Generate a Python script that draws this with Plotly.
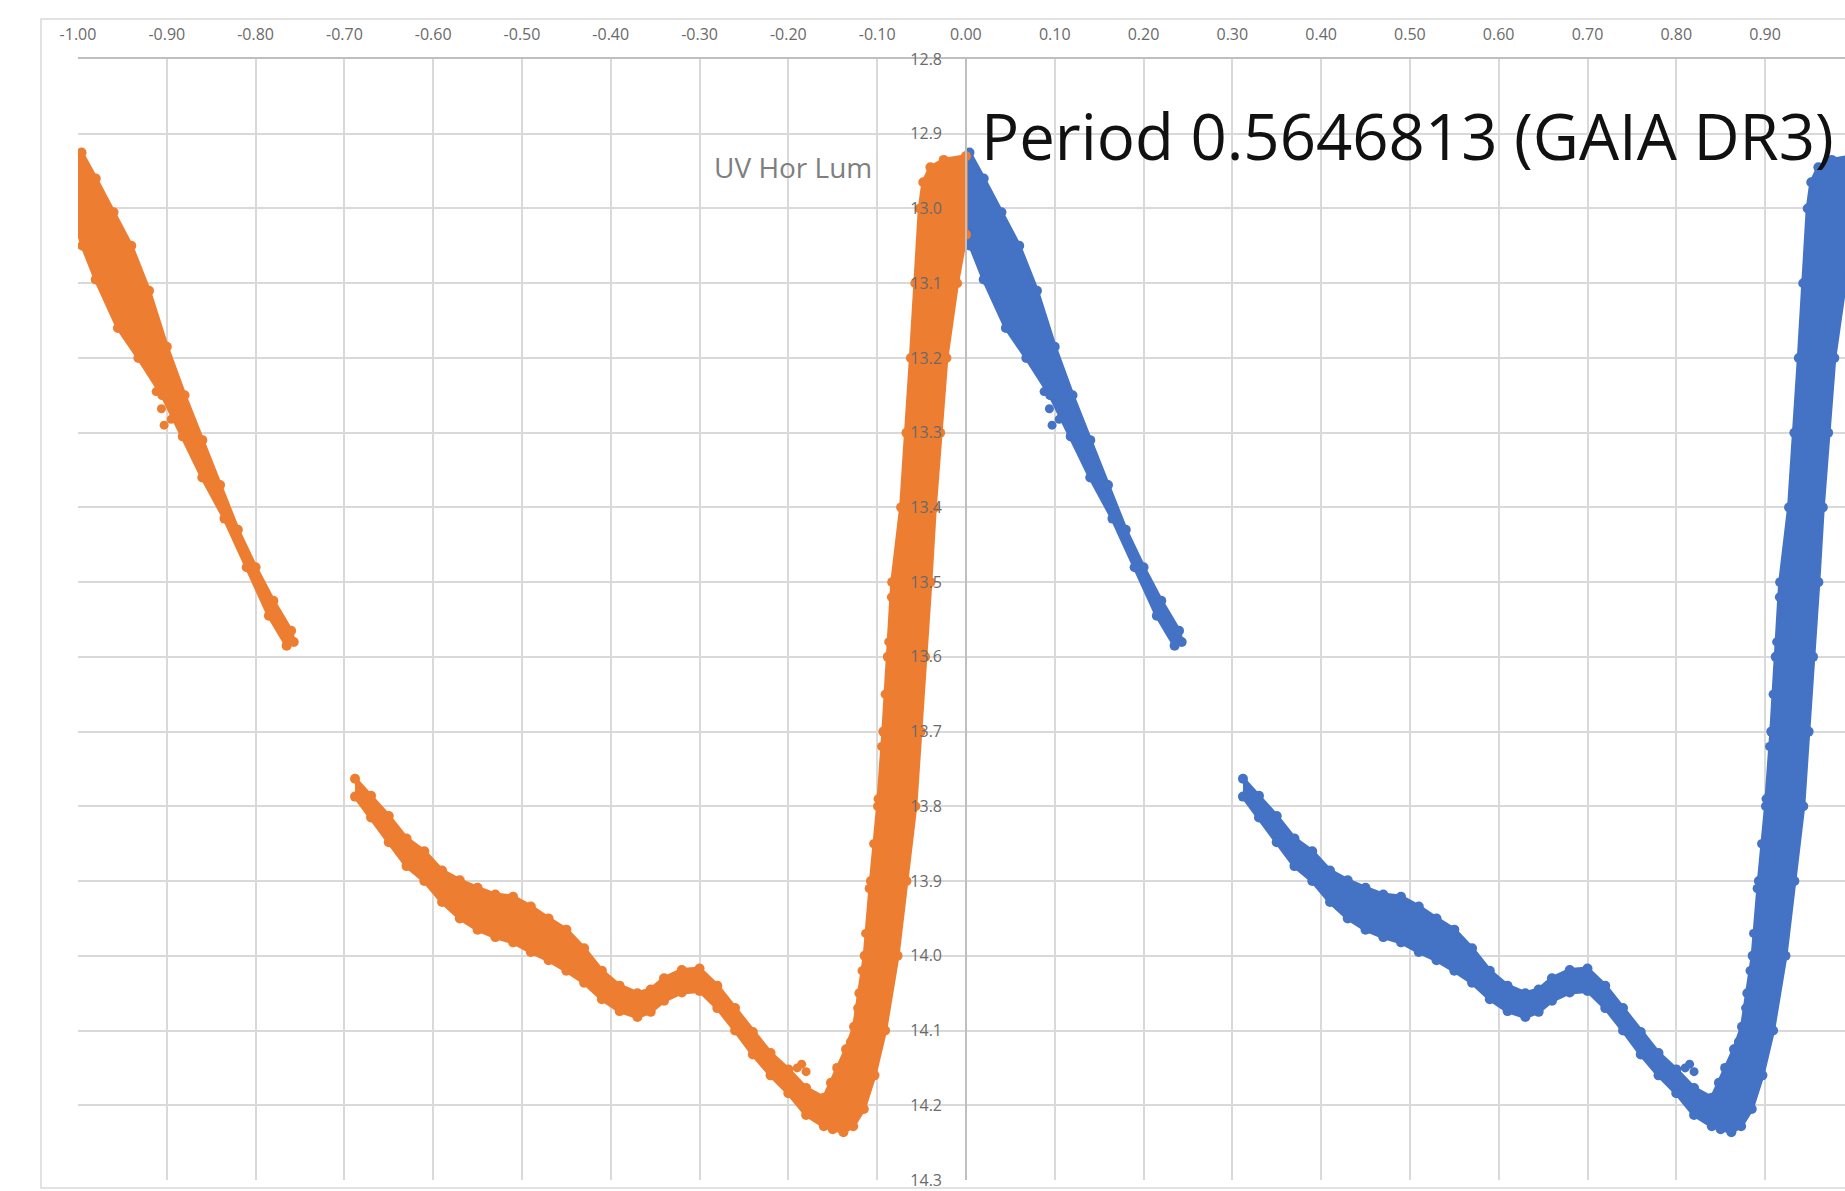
import plotly.graph_objects as go

# ---- data: phase-folded light curve of UV Hor (phase 0..1), band outlines ----
band1_phase = [0.000, 0.004, 0.020, 0.040, 0.060, 0.080, 0.100, 0.120, 0.140, 0.160, 0.180, 0.200,
               0.220, 0.240, 0.243, 0.235, 0.215, 0.190, 0.165, 0.140, 0.118, 0.095, 0.068, 0.045,
               0.020, 0.005, 0.000]
band1_mag = [12.935, 12.925, 12.960, 13.005, 13.050, 13.110, 13.185, 13.250, 13.310, 13.370, 13.430,
             13.480, 13.525, 13.565, 13.580, 13.585, 13.545, 13.480, 13.415, 13.360, 13.305, 13.250,
             13.200, 13.160, 13.095, 13.050, 13.030]

band2_phase = [0.312, 0.330, 0.350, 0.370, 0.390, 0.410, 0.430, 0.450, 0.470, 0.490, 0.510, 0.530,
               0.550, 0.570, 0.590, 0.610, 0.630, 0.645, 0.660, 0.680, 0.700, 0.720, 0.740, 0.760,
               0.780, 0.800, 0.820, 0.840, 0.848,
               0.855, 0.865, 0.874, 0.880, 0.886, 0.893, 0.901, 0.907, 0.912, 0.917, 0.927, 0.933,
               0.938, 0.943, 0.948, 0.952, 0.960, 0.975, 1.000,
               1.000, 0.990, 0.978, 0.971, 0.965, 0.960, 0.954, 0.949, 0.943, 0.933, 0.923, 0.909,
               0.897, 0.885, 0.873, 0.862,
               0.850, 0.840, 0.820, 0.800, 0.780, 0.760, 0.740, 0.720, 0.700, 0.680, 0.660, 0.645,
               0.630, 0.610, 0.590, 0.570, 0.550, 0.530, 0.510, 0.490, 0.470, 0.450, 0.430, 0.410,
               0.390, 0.370, 0.350, 0.330, 0.312]
band2_mag = [13.763, 13.786, 13.813, 13.843, 13.860, 13.886, 13.899, 13.909, 13.918, 13.921, 13.934,
             13.950, 13.965, 13.990, 14.020, 14.040, 14.050, 14.045, 14.030, 14.019, 14.017, 14.040,
             14.070, 14.102, 14.130, 14.152, 14.177, 14.190, 14.170,
             14.150, 14.125, 14.095, 14.050, 14.000, 13.900, 13.800, 13.700, 13.600, 13.500, 13.400,
             13.300, 13.200, 13.100, 13.000, 12.965, 12.945, 12.935, 12.930,
             13.035, 13.100, 13.200, 13.300, 13.400, 13.500, 13.600, 13.700, 13.800, 13.900, 14.000,
             14.100, 14.160, 14.205, 14.228, 14.236,
             14.232, 14.228, 14.213, 14.184, 14.160, 14.132, 14.100, 14.070, 14.047, 14.049, 14.060,
             14.075, 14.082, 14.074, 14.058, 14.036, 14.020, 14.006, 13.995, 13.982, 13.975, 13.965,
             13.950, 13.928, 13.900, 13.880, 13.848, 13.815, 13.787]

stray_phase = [0.088, 0.094, 0.097, 0.105, 0.810, 0.815, 0.820,
               0.916, 0.913, 0.909, 0.905, 0.901, 0.896, 0.891, 0.887, 0.883, 0.878, 0.870]
stray_mag = [13.245, 13.268, 13.290, 13.282, 14.150, 14.145, 14.155,
             13.520, 13.580, 13.650, 13.720, 13.790, 13.850, 13.910, 13.970, 14.020, 14.070, 14.115]

x_ticks = [-1.0, -0.9, -0.8, -0.7, -0.6, -0.5, -0.4, -0.3, -0.2, -0.1,
           0.0, 0.1, 0.2, 0.3, 0.4, 0.5, 0.6, 0.7, 0.8, 0.9]
x_labels = ["-1.00", "-0.90", "-0.80", "-0.70", "-0.60", "-0.50", "-0.40", "-0.30", "-0.20", "-0.10",
            "0.00", "0.10", "0.20", "0.30", "0.40", "0.50", "0.60", "0.70", "0.80", "0.90"]
y_ticks = [12.8, 12.9, 13.0, 13.1, 13.2, 13.3, 13.4, 13.5, 13.6, 13.7, 13.8, 13.9, 14.0, 14.1, 14.2, 14.3]
y_labels = ["12.8", "12.9", "13.0", "13.1", "13.2", "13.3", "13.4", "13.5", "13.6", "13.7",
            "13.8", "13.9", "14.0", "14.1", "14.2", "14.3"]

BLUE = "#4472C4"
ORANGE = "#ED7D31"

fig = go.Figure()


def add_series(shift, color):
    for ph, mg in ((band1_phase, band1_mag), (band2_phase, band2_mag)):
        xs = [p + shift for p in ph]
        fig.add_trace(go.Scatter(x=xs, y=mg, mode="lines", fill="toself", fillcolor=color,
                                 line=dict(color=color, width=4), hoverinfo="skip", showlegend=False))
        fig.add_trace(go.Scatter(x=xs, y=mg, mode="markers", marker=dict(color=color, size=10),
                                 hoverinfo="skip", showlegend=False))
    fig.add_trace(go.Scatter(x=[p + shift for p in stray_phase], y=stray_mag, mode="markers",
                             marker=dict(color=color, size=9), hoverinfo="skip", showlegend=False))


add_series(0.0, BLUE)
add_series(-1.0, ORANGE)

W, H = 1845, 1191
ML, MR, MT, MB = 78, 0, 59, 11
pw, ph_ = W - ML - MR, H - MT - MB
XMIN, XMAX = -1.0, 0.99


def px2paper_x(px):
    return (px - ML) / pw


def px2paper_y(py):
    return (H - MB - py) / ph_


fig.update_layout(
    width=W, height=H,
    margin=dict(l=ML, r=MR, t=MT, b=MB),
    paper_bgcolor="white", plot_bgcolor="white",
    font=dict(family="Open Sans, Arial, sans-serif", color="#666666"),
    xaxis=dict(range=[XMIN, XMAX], side="top", tickvals=x_ticks, ticktext=x_labels,
               showgrid=True, gridcolor="#d9d9d9", gridwidth=1.5, zeroline=False,
               showline=True, linecolor="#bfbfbf", linewidth=1.5, ticks="",
               tickfont=dict(size=16, color="#6a6a6a"), ticklabelstandoff=11),
    yaxis=dict(range=[14.3, 12.8], tickvals=y_ticks, ticktext=y_labels,
               anchor="free", position=(0 - XMIN) / (XMAX - XMIN), side="left",
               showgrid=True, gridcolor="#d9d9d9", gridwidth=1.5, zeroline=False,
               showline=True, linecolor="#bfbfbf", linewidth=1.5, ticks="",
               tickfont=dict(size=16, color="#6a6a6a"), ticklabelstandoff=20),
    shapes=[dict(type="rect", xref="paper", yref="paper",
                 x0=px2paper_x(41), x1=1.05, y0=px2paper_y(1188), y1=px2paper_y(19),
                 line=dict(color="#d9d9d9", width=1.5), layer="below")],
    annotations=[
        dict(text="Period 0.5646813 (GAIA DR3)", xref="paper", yref="paper",
             x=px2paper_x(979), y=px2paper_y(136), xanchor="left", yanchor="middle",
             showarrow=False, font=dict(size=63.5, color="#111111", family="Open Sans, Arial, sans-serif")),
        dict(text="UV Hor Lum", xref="paper", yref="paper",
             x=px2paper_x(712), y=px2paper_y(167), xanchor="left", yanchor="middle",
             showarrow=False, font=dict(size=28, color="#7f7f7f", family="Open Sans, Arial, sans-serif")),
    ],
)

fig.write_html("out.html", config={"displayModeBar": False},
               post_script="document.body.style.margin='0';document.body.style.overflow='hidden';")
